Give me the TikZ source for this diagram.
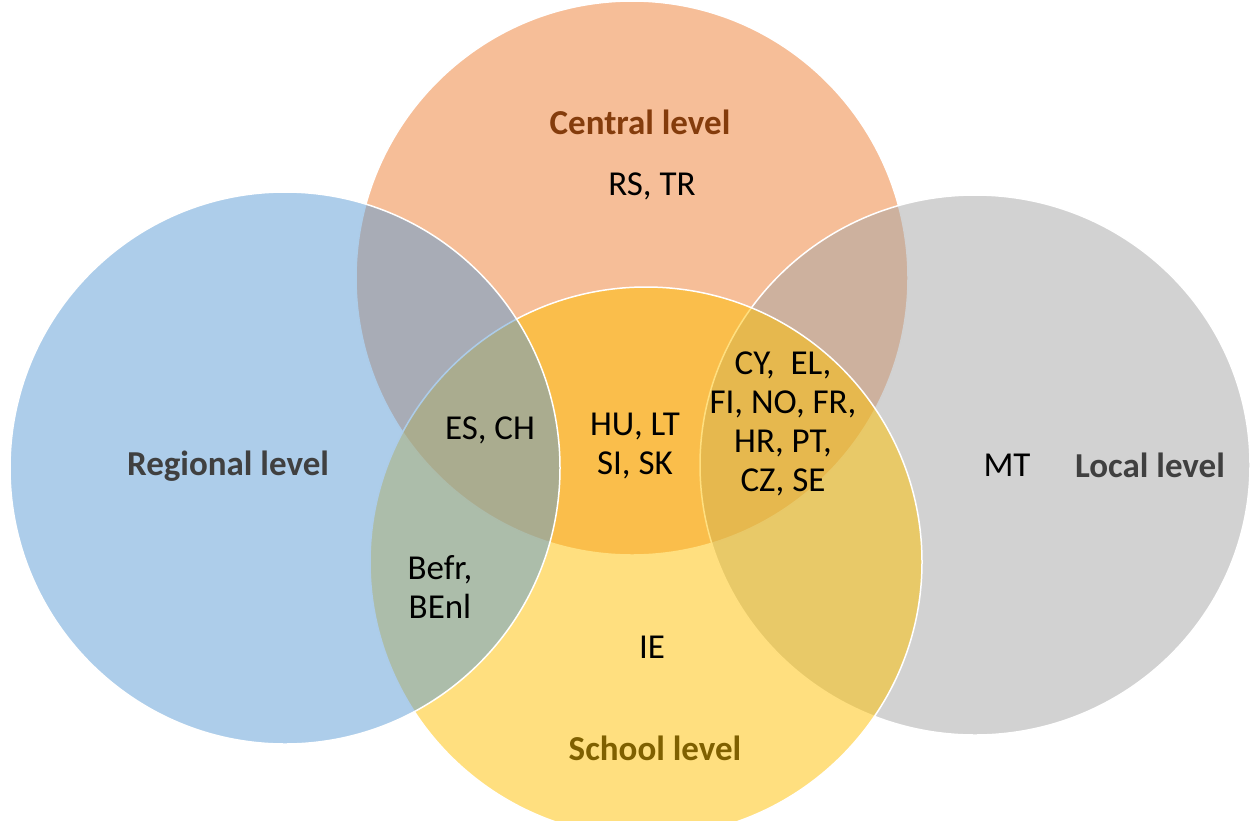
\documentclass[tikz,border=0pt]{standalone}
\usepackage{fontspec}
\setmainfont{Carlito}
\definecolor{regblue}{HTML}{5B9BD5}
\definecolor{cenorange}{HTML}{ED7D31}
\definecolor{locgray}{HTML}{A5A5A5}
\definecolor{schgold}{HTML}{FFC000}
\definecolor{cenbrown}{HTML}{843C0C}
\definecolor{schbrown}{HTML}{7F6000}
\definecolor{darktext}{HTML}{404040}
\begin{document}
\begin{tikzpicture}[x=1pt,y=-1pt,
  levelset/.style={draw=white, line width=1.5pt, fill opacity=0.5},
  leveltitle/.style={font=\fontsize{35}{40}\selectfont\bfseries, inner sep=0pt},
  members/.style={font=\fontsize{35}{39}\selectfont, text=black, align=center, inner sep=0pt}]
\useasboundingbox (0,0) rectangle (1250,820);
\clip (0,0) rectangle (1250,820);

% the four governance levels, stacked so the translucent fills blend
\path[levelset, fill=cenorange] (632,278) ellipse [x radius=276, y radius=277];
\path[levelset, fill=locgray]   (975,465) ellipse [x radius=275, y radius=270];
\path[levelset, fill=schgold]   (646,562) ellipse [x radius=276, y radius=275];
\path[levelset, fill=regblue]   (285,468) ellipse [x radius=275, y radius=276];

% level titles
\node[leveltitle, text=cenbrown] (central) at (640,122) {Central level};
\node[leveltitle, text=darktext] (regional) at (228,466) {Regional level};
\node[leveltitle, text=darktext] (local) at (1150,465) {Local level};
\node[leveltitle, text=schbrown] (school) at (655,748) {School level};

% countries in each region
\node[members] (rstr) at (652,186) {RS, TR};
\node[members] (esch) at (490,430) {ES, CH};
\node[members] (hult) at (635,446) {HU, LT\\SI, SK};
\node[members] (cyel) at (783,424) {CY,\ \ EL,\\FI, NO, FR,\\HR, PT,\\CZ, SE};
\node[members] (mt) at (1007,465) {MT};
\node[members] (befr) at (440,587) {Befr,\\BEnl};
\node[members] (ie) at (652,647) {IE};
\end{tikzpicture}
\end{document}
